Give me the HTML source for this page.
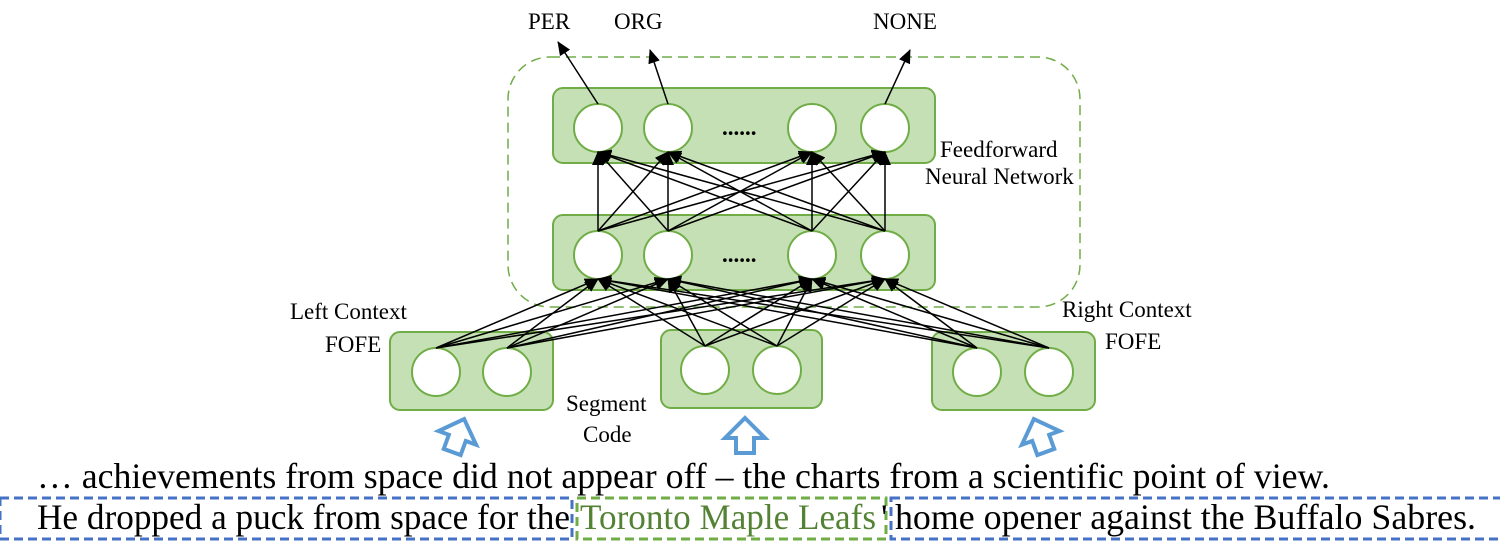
<!DOCTYPE html>
<html><head><meta charset="utf-8"><style>html,body{margin:0;padding:0;background:#fff}svg{display:block}</style></head>
<body>
<svg width="1500" height="546" viewBox="0 0 1500 546" xmlns="http://www.w3.org/2000/svg" font-family="'Liberation Serif', serif">
<defs><marker id="a" markerWidth="8" markerHeight="8" refX="7" refY="4" orient="auto" markerUnits="userSpaceOnUse"><path d="M0,0 L8,4 L0,8 z" fill="#000"/></marker>
<marker id="b" markerWidth="14" markerHeight="12" refX="13" refY="6" orient="auto" markerUnits="userSpaceOnUse"><path d="M0,0 L14,6 L0,12 z" fill="#000"/></marker></defs>
<rect x="508" y="57" width="572" height="250" rx="42" fill="none" stroke="#70ad47" stroke-width="1.5" stroke-dasharray="10,6"/>
<g fill="#c5e0b4" stroke="#70ad47" stroke-width="2">
<rect x="553" y="88" width="382" height="75" rx="10"/>
<rect x="553" y="215" width="382" height="75" rx="10"/>
<rect x="390" y="332" width="163" height="78" rx="10"/>
<rect x="661" y="330" width="161" height="78" rx="10"/>
<rect x="932" y="332" width="163" height="78" rx="10"/>
</g>
<g fill="#fff" stroke="#70ad47" stroke-width="2">
<circle cx="598" cy="128" r="24"/><circle cx="668" cy="128" r="24"/><circle cx="812" cy="128" r="24"/><circle cx="885" cy="128" r="24"/>
<circle cx="598" cy="255" r="24"/><circle cx="668" cy="255" r="24"/><circle cx="812" cy="255" r="24"/><circle cx="885" cy="255" r="24"/>
<circle cx="436" cy="372" r="24"/><circle cx="507" cy="372" r="24"/>
<circle cx="705" cy="370" r="24"/><circle cx="777" cy="370" r="24"/>
<circle cx="977" cy="372" r="24"/><circle cx="1049" cy="372" r="24"/>
</g>
<g stroke="#000" stroke-width="1.5" marker-end="url(#b)">
<line x1="598" y1="231" x2="598" y2="152"/><line x1="598" y1="231" x2="668" y2="152"/><line x1="598" y1="231" x2="812" y2="152"/><line x1="598" y1="231" x2="885" y2="152"/>
<line x1="668" y1="231" x2="598" y2="152"/><line x1="668" y1="231" x2="668" y2="152"/><line x1="668" y1="231" x2="812" y2="152"/><line x1="668" y1="231" x2="885" y2="152"/>
<line x1="812" y1="231" x2="598" y2="152"/><line x1="812" y1="231" x2="668" y2="152"/><line x1="812" y1="231" x2="812" y2="152"/><line x1="812" y1="231" x2="885" y2="152"/>
<line x1="885" y1="231" x2="598" y2="152"/><line x1="885" y1="231" x2="668" y2="152"/><line x1="885" y1="231" x2="812" y2="152"/><line x1="885" y1="231" x2="885" y2="152"/>
<line x1="436" y1="348" x2="598" y2="279"/><line x1="436" y1="348" x2="668" y2="279"/><line x1="436" y1="348" x2="812" y2="279"/><line x1="436" y1="348" x2="885" y2="279"/>
<line x1="507" y1="348" x2="598" y2="279"/><line x1="507" y1="348" x2="668" y2="279"/><line x1="507" y1="348" x2="812" y2="279"/><line x1="507" y1="348" x2="885" y2="279"/>
<line x1="705" y1="346" x2="598" y2="279"/><line x1="705" y1="346" x2="668" y2="279"/><line x1="705" y1="346" x2="812" y2="279"/><line x1="705" y1="346" x2="885" y2="279"/>
<line x1="777" y1="346" x2="598" y2="279"/><line x1="777" y1="346" x2="668" y2="279"/><line x1="777" y1="346" x2="812" y2="279"/><line x1="777" y1="346" x2="885" y2="279"/>
<line x1="977" y1="348" x2="598" y2="279"/><line x1="977" y1="348" x2="668" y2="279"/><line x1="977" y1="348" x2="812" y2="279"/><line x1="977" y1="348" x2="885" y2="279"/>
<line x1="1049" y1="348" x2="598" y2="279"/><line x1="1049" y1="348" x2="668" y2="279"/><line x1="1049" y1="348" x2="812" y2="279"/><line x1="1049" y1="348" x2="885" y2="279"/>
<line x1="598" y1="104" x2="558" y2="42"/><line x1="668" y1="104" x2="650" y2="50"/><line x1="885" y1="104" x2="910" y2="50"/>
</g>
<g font-size="23" fill="#000">
<text x="528" y="29">PER</text><text x="614" y="29">ORG</text><text x="873" y="29">NONE</text>
<text x="722" y="135" font-weight="bold">......</text><text x="722" y="262" font-weight="bold">......</text>
<text x="940" y="157">Feedforward</text><text x="925" y="184">Neural Network</text>
<text x="290" y="319">Left Context</text><text x="325" y="352">FOFE</text>
<text x="1062" y="317">Right Context</text><text x="1105" y="349">FOFE</text>
<text x="566" y="411">Segment</text><text x="583" y="442">Code</text>
</g>
<g fill="#fff" stroke="#5b9bd5" stroke-width="4">
<path d="M0,-18 L20,2 L9,2 L9,17 L-9,17 L-9,2 L-20,2 Z" transform="translate(458,436) rotate(20)"/>
<path d="M0,-18 L20,2 L9,2 L9,17 L-9,17 L-9,2 L-20,2 Z" transform="translate(745,436)"/>
<path d="M0,-18 L20,2 L9,2 L9,17 L-9,17 L-9,2 L-20,2 Z" transform="translate(1040,436) rotate(-20)"/>
</g>
<g fill="none" stroke-width="3" stroke-dasharray="9,5">
<rect x="0" y="498" width="572" height="41" stroke="#4472c4"/>
<rect x="891" y="498" width="612" height="41" stroke="#4472c4"/>
<rect x="577" y="498" width="309" height="41" stroke="#70ad47"/>
</g>
<g font-size="36">
<text x="37" y="488" textLength="1293" lengthAdjust="spacingAndGlyphs">…  achievements from space did not appear off – the  charts from a scientific point of view.</text>
<text x="37" y="529" textLength="533" lengthAdjust="spacingAndGlyphs">He dropped a puck from space for the</text>
<text x="580" y="529" fill="#548235" textLength="296" lengthAdjust="spacingAndGlyphs">Toronto Maple Leafs</text>
<text x="881" y="529">'</text>
<text x="895" y="529" textLength="581" lengthAdjust="spacingAndGlyphs">home opener against the Buffalo Sabres.</text>
</g>
</svg>
</body></html>
